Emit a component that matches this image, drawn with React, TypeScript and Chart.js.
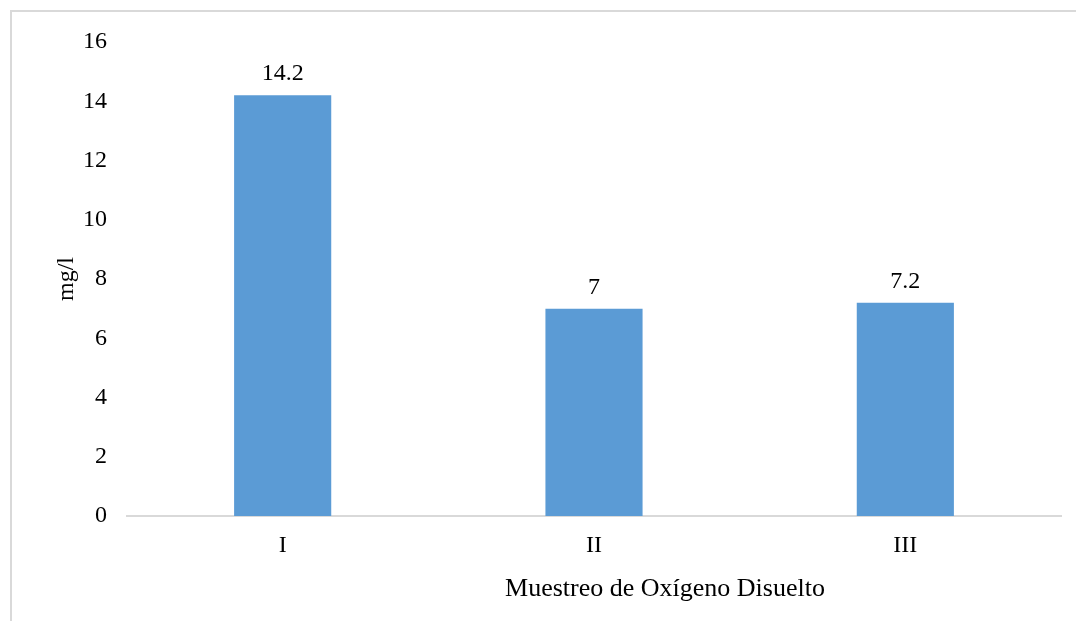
import React, { useEffect, useRef } from "react";
import { Chart, registerables } from "chart.js";

Chart.register(...registerables);

const categories = ["I", "II", "III"];
const values = [14.2, 7, 7.2];
const yTicks = [0, 2, 4, 6, 8, 10, 12, 14, 16];
const yTitle = "mg/l";
const xTitle = "Muestreo de Oxígeno Disuelto";

const FONT = "'Liberation Serif', 'Times New Roman', serif";
const FS = 24;

const valueLabels = {
  id: "valueLabels",
  afterDatasetsDraw(chart: any) {
    const ctx = chart.ctx;
    const meta = chart.getDatasetMeta(0);
    ctx.save();
    ctx.font = `${FS}px ${FONT}`;
    ctx.fillStyle = "#000";
    ctx.textAlign = "center";
    ctx.textBaseline = "alphabetic";
    meta.data.forEach((bar: any, i: number) => {
      ctx.fillText(String(values[i]), bar.x, bar.y - 15);
    });
    // x axis title (offset to the right as in the reference)
    ctx.font = `26px ${FONT}`;
    ctx.textBaseline = "middle";
    const area = chart.chartArea;
    ctx.fillText(xTitle, area.left + (area.right - area.left) * 0.576, 589);
    ctx.restore();
  },
};

export default function App() {
  const ref = useRef<HTMLCanvasElement>(null);
  useEffect(() => {
    const chart = new Chart(ref.current!, {
      type: "bar",
      data: {
        labels: categories,
        datasets: [
          {
            data: values,
            backgroundColor: "#5b9bd5",
            categoryPercentage: 1,
            barPercentage: 0.312,
          },
        ],
      },
      options: {
        animation: false,
        responsive: false,
        maintainAspectRatio: false,
        layout: { padding: { left: 52, top: 42, right: 15, bottom: 0 } },
        plugins: { legend: { display: false }, tooltip: { enabled: false } },
        scales: {
          x: {
            grid: { display: false, drawTicks: false },
            border: { display: true, color: "#d9d9d9", width: 2 },
            ticks: { color: "#000", font: { family: FONT, size: FS }, padding: 15 },
            title: { display: false },
            afterFit: (s: any) => {
              s.height = 105;
            },
          },
          y: {
            min: 0,
            max: 16,
            afterBuildTicks: (s: any) => {
              s.ticks = yTicks.map((v) => ({ value: v }));
            },
            grid: { display: false, drawTicks: false },
            border: { display: false },
            ticks: { color: "#000", font: { family: FONT, size: FS }, padding: 20 },
            title: {
              display: true,
              text: yTitle,
              color: "#000",
              font: { family: FONT, size: FS },
              padding: { top: 0, bottom: 0 },
            },
            afterFit: (s: any) => {
              s.width = 127 - 52;
            },
          },
        },
      },
      plugins: [valueLabels],
    });
    return () => chart.destroy();
  }, []);

  return (
    <div style={{ position: "absolute", left: 0, top: 0, width: 1076, height: 621, background: "#fff", overflow: "hidden" }}>
      <div
        style={{
          position: "absolute",
          left: 10,
          top: 10,
          width: 1100,
          height: 700,
          borderTop: "2px solid #d9d9d9",
          borderLeft: "2px solid #d9d9d9",
        }}
      />
      <canvas ref={ref} width={1076} height={621} style={{ position: "absolute", left: 0, top: 0 }} />
    </div>
  );
}
